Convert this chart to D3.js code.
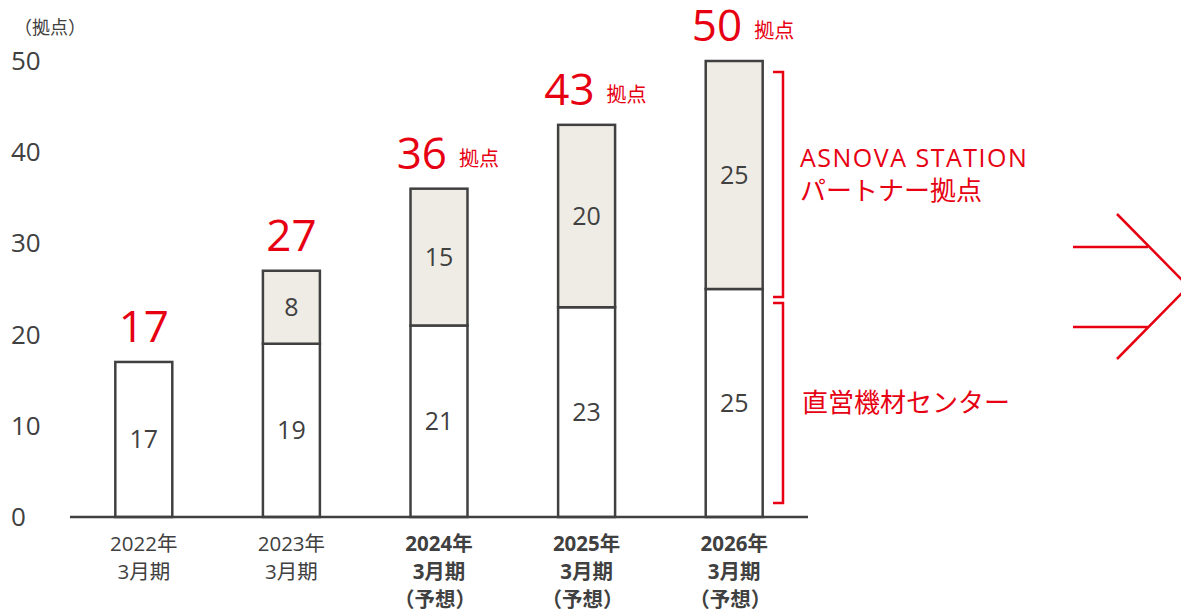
<!DOCTYPE html>
<html><head><meta charset="utf-8">
<script src="https://cdn.jsdelivr.net/npm/d3@7"></script>
<style>
  html, body { margin: 0; background: #fff; }
  svg { display: block; font-family: "Open Sans", "Noto Sans CJK JP", sans-serif; }
</style>
</head><body>
<svg id="chart" width="1181" height="612"></svg>
<script>
// fiscal years (x categories); the last three are forecasts
const YEARS = ["2022年", "2023年", "2024年", "2025年", "2026年"];
const FORECAST = [false, false, true, true, true];
// 直営機材センター (bottom) and ASNOVA STATION パートナー拠点 (top)
const DIRECT = [17, 19, 21, 23, 25];
const PARTNER = [0, 8, 15, 20, 25];
const TOTALS = [17, 27, 36, 43, 50];
const Y_TICKS = [0, 10, 20, 30, 40, 50];

const RED = "#e60012", INK = "#404040";
const svg = d3.select("#chart");

const x = d3.scaleBand().domain(YEARS).range([70, 808]).paddingInner(0.614).paddingOuter(0.307);
const y = d3.scaleLinear().domain([0, 50]).range([517, 61]);

// y tick labels only, no axis line
svg.append("g").selectAll("text").data(Y_TICKS).join("text")
    .attr("x", 11).attr("y", d => y(d) + 9)
    .attr("font-size", 26).attr("fill", INK).text(d => d);
svg.append("text").attr("x", 14).attr("y", 34)
    .attr("font-size", 18).attr("fill", INK).text("（拠点）");

// stacked bars
const rows = YEARS.map((yr, i) => ({yr, direct: DIRECT[i], partner: PARTNER[i], total: TOTALS[i], fc: FORECAST[i]}));
const bars = svg.append("g").selectAll("g").data(rows).join("g");

bars.append("rect")
    .attr("x", d => x(d.yr)).attr("width", x.bandwidth())
    .attr("y", d => y(d.direct)).attr("height", d => y(0) - y(d.direct))
    .attr("fill", "#fff").attr("stroke", INK).attr("stroke-width", 2.5);
bars.filter(d => d.partner > 0).append("rect")
    .attr("x", d => x(d.yr)).attr("width", x.bandwidth())
    .attr("y", d => y(d.total)).attr("height", d => y(d.direct) - y(d.total))
    .attr("fill", "#efece5").attr("stroke", INK).attr("stroke-width", 2.5);

const cx = d => x(d.yr) + x.bandwidth() / 2;
bars.append("text").attr("x", cx).attr("y", d => y(d.direct / 2) + 9)
    .attr("text-anchor", "middle").attr("font-size", 25).attr("fill", INK).text(d => d.direct);
bars.filter(d => d.partner > 0).append("text").attr("x", cx).attr("y", d => y(d.direct + d.partner / 2) + 9)
    .attr("text-anchor", "middle").attr("font-size", 25).attr("fill", INK).text(d => d.partner);

// totals above bars
bars.append("text")
    .attr("x", d => d.fc ? cx(d) + 8 : cx(d)).attr("y", d => y(d.total) - 20)
    .attr("text-anchor", d => d.fc ? "end" : "middle")
    .attr("font-size", 44).attr("fill", RED).text(d => d.total);
bars.filter(d => d.fc).append("text")
    .attr("x", d => cx(d) + 20).attr("y", d => y(d.total) - 23)
    .attr("font-size", 20).attr("fill", RED).text("拠点");

// x axis line
svg.append("line").attr("x1", 70).attr("x2", 808).attr("y1", y(0)).attr("y2", y(0))
    .attr("stroke", INK).attr("stroke-width", 2.5);

// category labels
const xl = svg.append("g").selectAll("text").data(rows).join("text")
    .attr("text-anchor", "middle").attr("font-size", 20.5).attr("fill", INK)
    .attr("font-weight", d => d.fc ? 700 : 400);
xl.append("tspan").attr("x", cx).attr("y", 551).text(d => d.yr);
xl.append("tspan").attr("x", cx).attr("y", 579).text("3月期");
xl.filter(d => d.fc).append("tspan").attr("x", d => cx(d) - 4).attr("y", 607).text("（予想）");

// brackets for the two segments of the last bar
const last = rows[rows.length - 1];
const bx = 783, tick = 10;
const bracket = (top, bot) => `M${bx - tick},${top}H${bx}V${bot}H${bx - tick}`;
svg.append("path").attr("d", bracket(y(last.total) + 11, y(last.direct) + 8))
    .attr("fill", "none").attr("stroke", RED).attr("stroke-width", 2.5);
svg.append("path").attr("d", bracket(y(last.direct) + 14, y(0) - 14))
    .attr("fill", "none").attr("stroke", RED).attr("stroke-width", 2.5);

svg.append("text").attr("x", 800).attr("y", 167).attr("font-size", 25)
    .attr("letter-spacing", 1.5).attr("fill", RED).text("ASNOVA STATION");
svg.append("text").attr("x", 800).attr("y", 200).attr("font-size", 26)
    .attr("fill", RED).text("パートナー拠点");
svg.append("text").attr("x", 802).attr("y", 412).attr("font-size", 26)
    .attr("fill", RED).text("直営機材センター");

// decorative arrow at the right edge
svg.append("path")
    .attr("d", "M1073,247H1148M1073,327H1148M1117,214L1183,281M1183,292L1117,359")
    .attr("fill", "none").attr("stroke", RED).attr("stroke-width", 2.5);
</script>
</body></html>
